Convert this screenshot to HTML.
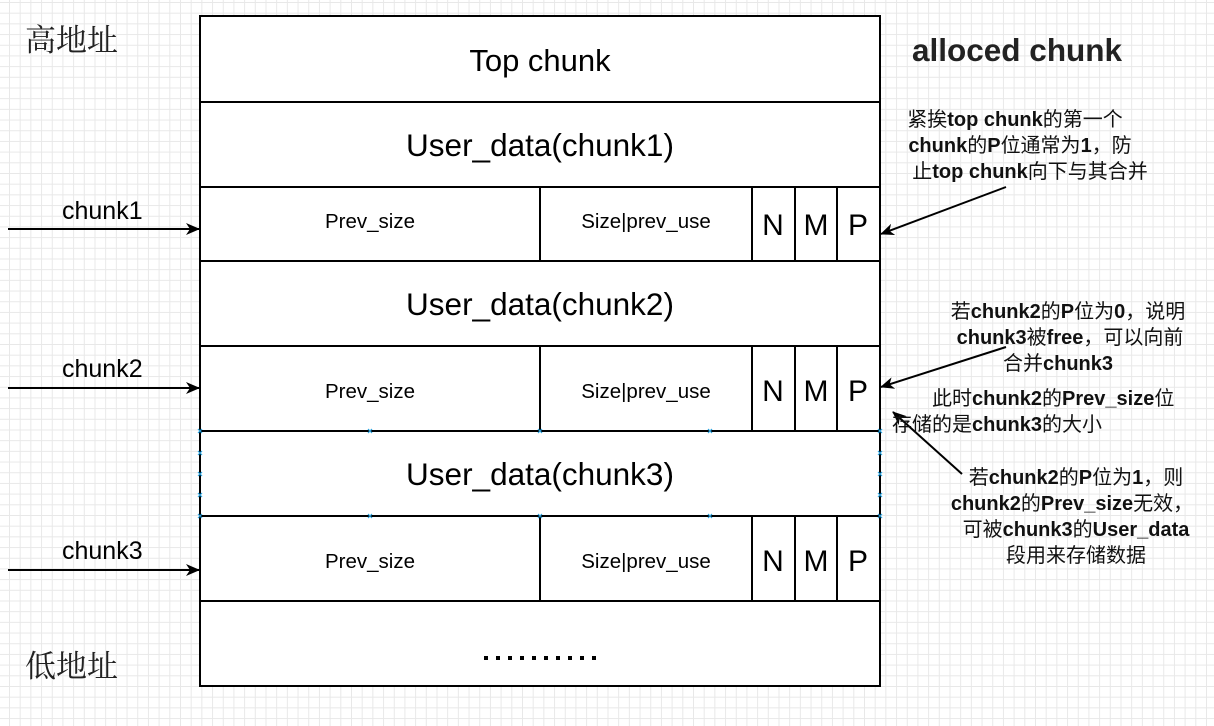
<!DOCTYPE html>
<html><head><meta charset="utf-8"><style>
html,body{margin:0;padding:0;}
body{width:1214px;height:726px;overflow:hidden;background:#fff;
background-image:linear-gradient(#e8e8e8 1px,transparent 1px),linear-gradient(90deg,#e8e8e8 1px,transparent 1px);
background-size:10.7px 10.7px;background-position:9px 2px;}
svg{position:absolute;left:0;top:0;}
text{font-family:"Liberation Sans","Noto Sans CJK SC",sans-serif;}
</style></head><body>
<svg width="1214" height="726" viewBox="0 0 1214 726">
<defs><marker id="a" markerWidth="14" markerHeight="12" refX="13" refY="6" orient="auto" markerUnits="userSpaceOnUse"><path d="M0,0 L14,6 L0,12 L4,6 Z" fill="#000"/></marker></defs>
<rect x="200" y="16" width="680" height="670" fill="#fff" stroke="#000" stroke-width="2"/>
<g stroke="#000" stroke-width="2">
<line x1="200" y1="102" x2="880" y2="102"/>
<line x1="200" y1="187" x2="880" y2="187"/>
<line x1="200" y1="261" x2="880" y2="261"/>
<line x1="200" y1="346" x2="880" y2="346"/>
<line x1="200" y1="431" x2="880" y2="431"/>
<line x1="200" y1="516" x2="880" y2="516"/>
<line x1="200" y1="601" x2="880" y2="601"/>
<line x1="540" y1="187" x2="540" y2="261"/><line x1="752" y1="187" x2="752" y2="261"/><line x1="795" y1="187" x2="795" y2="261"/><line x1="837" y1="187" x2="837" y2="261"/>
<line x1="540" y1="346" x2="540" y2="431"/><line x1="752" y1="346" x2="752" y2="431"/><line x1="795" y1="346" x2="795" y2="431"/><line x1="837" y1="346" x2="837" y2="431"/>
<line x1="540" y1="516" x2="540" y2="601"/><line x1="752" y1="516" x2="752" y2="601"/><line x1="795" y1="516" x2="795" y2="601"/><line x1="837" y1="516" x2="837" y2="601"/>
</g>
<g text-anchor="middle" fill="#000">
<text x="540" y="71" font-size="31">Top chunk</text>
<text x="540" y="156" font-size="31.5">User_data(chunk1)</text>
<text x="540" y="315" font-size="31.5">User_data(chunk2)</text>
<text x="540" y="485" font-size="31.5">User_data(chunk3)</text>
</g>
<g font-size="20.5" text-anchor="middle">
<text x="370" y="228">Prev_size</text><text x="646" y="228">Size|prev_use</text>
<text x="370" y="398">Prev_size</text><text x="646" y="398">Size|prev_use</text>
<text x="370" y="568">Prev_size</text><text x="646" y="568">Size|prev_use</text>
</g>
<g font-size="30" text-anchor="middle">
<text x="773" y="235">N</text><text x="816" y="235">M</text><text x="858" y="235">P</text>
<text x="773" y="401">N</text><text x="816" y="401">M</text><text x="858" y="401">P</text>
<text x="773" y="571">N</text><text x="816" y="571">M</text><text x="858" y="571">P</text>
</g>
<g fill="#000"><rect x="484" y="656" width="4" height="4"/><rect x="496" y="656" width="4" height="4"/><rect x="508" y="656" width="4" height="4"/><rect x="520" y="656" width="4" height="4"/><rect x="532" y="656" width="4" height="4"/><rect x="544" y="656" width="4" height="4"/><rect x="556" y="656" width="4" height="4"/><rect x="568" y="656" width="4" height="4"/><rect x="580" y="656" width="4" height="4"/><rect x="592" y="656" width="4" height="4"/></g>
<g stroke="#29a3e0" stroke-width="1.2">
<path d="M198,429l4,4M202,429l-4,4M198,451l4,4M202,451l-4,4M198,472l4,4M202,472l-4,4M198,493l4,4M202,493l-4,4M198,514l4,4M202,514l-4,4"/>
<path d="M878,429l4,4M882,429l-4,4M878,451l4,4M882,451l-4,4M878,472l4,4M882,472l-4,4M878,493l4,4M882,493l-4,4M878,514l4,4M882,514l-4,4"/>
<path d="M368,429l4,4M372,429l-4,4M538,429l4,4M542,429l-4,4M708,429l4,4M712,429l-4,4M368,514l4,4M372,514l-4,4M538,514l4,4M542,514l-4,4M708,514l4,4M712,514l-4,4"/>
</g>
<g font-size="31" fill="#222">
<text x="25" y="51" style="font-family:'Noto Serif CJK SC',serif">高地址</text>
<text x="25" y="677" style="font-family:'Noto Serif CJK SC',serif">低地址</text>
</g>
<g font-size="25">
<text x="62" y="219">chunk1</text><text x="62" y="377">chunk2</text><text x="62" y="559">chunk3</text>
</g>
<g stroke="#000" stroke-width="2" marker-end="url(#a)">
<line x1="8" y1="229" x2="199" y2="229"/>
<line x1="8" y1="388" x2="199" y2="388"/>
<line x1="8" y1="570" x2="199" y2="570"/>
<line x1="1006" y1="187" x2="881" y2="234"/>
<line x1="1006" y1="347" x2="881" y2="387"/>
<line x1="962" y1="474" x2="893" y2="412"/>
</g>
<text x="912" y="61" font-size="31.5" font-weight="bold" fill="#222">alloced chunk</text>
<g font-size="20" text-anchor="middle" fill="#111">
<text x="1015" y="126">紧挨<tspan font-weight="bold">top chunk</tspan>的第一个</text>
<text x="1020" y="152"><tspan font-weight="bold">chunk</tspan>的<tspan font-weight="bold">P</tspan>位通常为<tspan font-weight="bold">1</tspan>，防</text>
<text x="1030" y="178">止<tspan font-weight="bold">top chunk</tspan>向下与其合并</text>
<text x="1068" y="318">若<tspan font-weight="bold">chunk2</tspan>的<tspan font-weight="bold">P</tspan>位为<tspan font-weight="bold">0</tspan>，说明</text>
<text x="1070" y="344"><tspan font-weight="bold">chunk3</tspan>被<tspan font-weight="bold">free</tspan>，可以向前</text>
<text x="1058" y="370">合并<tspan font-weight="bold">chunk3</tspan></text>
<text x="932" y="405" text-anchor="start">此时<tspan font-weight="bold">chunk2</tspan>的<tspan font-weight="bold">Prev_size</tspan>位</text>
<text x="892" y="431" text-anchor="start">存储的是<tspan font-weight="bold">chunk3</tspan>的大小</text>
<text x="1076" y="484">若<tspan font-weight="bold">chunk2</tspan>的<tspan font-weight="bold">P</tspan>位为<tspan font-weight="bold">1</tspan>，则</text>
<text x="1072" y="510"><tspan font-weight="bold">chunk2</tspan>的<tspan font-weight="bold">Prev_size</tspan>无效，</text>
<text x="1076" y="536">可被<tspan font-weight="bold">chunk3</tspan>的<tspan font-weight="bold">User_data</tspan></text>
<text x="1076" y="562">段用来存储数据</text>
</g>
</svg>
</body></html>
